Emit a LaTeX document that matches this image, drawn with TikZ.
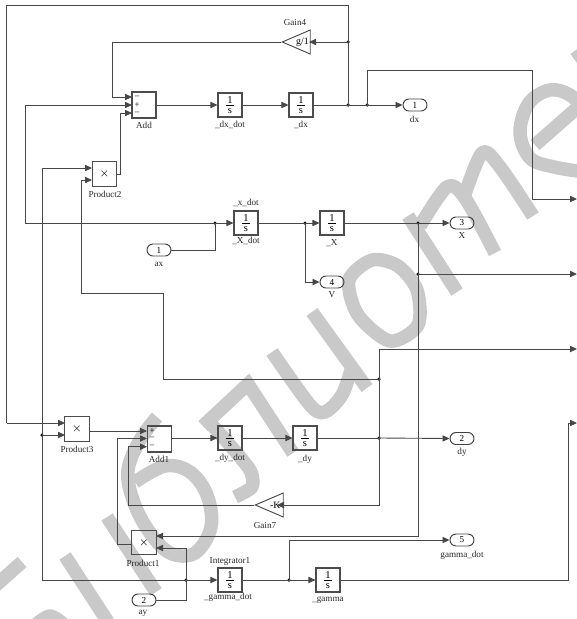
\documentclass[tikz,border=0pt]{standalone}
\usepackage{fontspec}
\setmainfont{Liberation Serif}
\usetikzlibrary{arrows.meta,positioning,shapes.geometric,shapes.misc}
\newcommand{\oneOverS}{\ensuremath{\vcenter{\offinterlineskip\halign{\hfil##\hfil\cr
  \hbox{1}\cr\noalign{\kern0.7pt}\vrule width4.6pt height0.3pt\cr\noalign{\kern1.7pt}\hbox{s}\cr}}}}

\begin{document}
\begin{tikzpicture}[
  x=0.02cm, y=-0.02cm,
  mark stroke/.style={draw=black!21, line width=0.27cm, line join=round},
  block/.style={draw=black!70, line width=0.6pt, minimum width=0.48cm, minimum height=0.48cm, inner sep=0pt, font=\fontsize{6}{6}\selectfont},
  sum/.style={block, minimum height=0.52cm},
  product/.style={block, minimum width=0.49cm, minimum height=0.49cm},
  gain/.style={draw=black!70, line width=0.55pt, isosceles triangle, isosceles triangle stretches, shape border rotate=180, minimum width=0.48cm, minimum height=0.56cm, inner sep=0pt, anchor=apex, font=\fontsize{5.6}{6}\selectfont},
  port/.style={draw=black!75, line width=0.55pt, rounded rectangle, minimum width=0.48cm, minimum height=0.24cm, inner sep=0pt, font=\fontsize{5.2}{6}\selectfont},
  caption/.style={inner sep=0pt, font=\fontsize{5.2}{6}\selectfont, text=black!85},
  sign/.style={inner sep=0pt, font=\fontsize{5}{6}\selectfont},
  dot/.style={circle, fill=black, inner sep=0pt, minimum size=0.07cm},
  wire/.style={draw=black!72, line width=0.5pt},
  arrow/.style={wire, -{Triangle[length=1.4mm, width=1.25mm]}},
]
  \useasboundingbox (0,0) rectangle (577,619);

  % Watermark
  \draw[mark stroke] (-6,587) -- (22,562);
  \draw[mark stroke] (65,556) -- (108,622);
  \draw[mark stroke] plot[smooth] coordinates {(30,630) (50,616) (70,630)};
  \draw[mark stroke] (107,517) -- (156,592);
  \draw[mark stroke] plot[smooth, tension=0.6] coordinates {(157,417) (140,440) (128,470) (133,500) (148,530) (170,553) (195,553) (211,527) (207,495) (190,472) (165,466) (135,482)};
  \draw[mark stroke] plot[smooth, tension=0.4] coordinates {(235,497) (252,487) (250,470) (223,437) (207,420)};
  \draw[mark stroke, line join=miter] (203,426) -- (248,384) -- (293,453);
  \draw[mark stroke] plot[smooth, tension=0.5] coordinates {(272,352) (310,405) (325,412) (342,395) (352,367)};
  \draw[mark stroke] (312,312) -- (367,388);
  \draw[mark stroke] plot[smooth cycle] coordinates {(372,260) (349,280) (358,315) (390,341) (418,325) (417,290) (398,266)};
  \draw[mark stroke] (408,216) -- (457,292);
  \draw[mark stroke] plot[smooth, tension=0.5] coordinates {(420,226) (447,187) (465,198) (495,253)};
  \draw[mark stroke] plot[smooth, tension=0.5] coordinates {(463,200) (482,153) (500,167) (533,216)};
  \draw[mark stroke] plot[smooth, tension=0.6] coordinates {(585,172) (554,167) (530,158) (520,132) (529,103) (550,90) (570,95) (585,110)};
  \draw[mark stroke] (535,145) -- (585,101);
  \draw[mark stroke] (576,50) -- (590,70);

  % Blocks
  \node[sum] (add) at (144,105) {};
  \node[block] (dxdot) at (230,105) {\oneOverS};
  \node[block] (dx) at (301,105) {\oneOverS};
  \node[product] (prodTwo) at (104.5,174) {$\times$};
  \node[block] (xdot) at (246,223) {\oneOverS};
  \node[block] (xint) at (332,223) {\oneOverS};
  \node[product] (prodThree) at (77,429) {$\times$};
  \node[sum] (addOne) at (159.5,439) {};
  \node[block] (dydot) at (230,438) {\oneOverS};
  \node[block] (dy) at (305,438) {\oneOverS};
  \node[product] (prodOne) at (144,542.5) {$\times$};
  \node[block] (gammadot) at (230,580) {\oneOverS};
  \node[block] (gammaint) at (328,580) {\oneOverS};
  \node[gain] (gainFour) at (281,42) {g/1};
  \node[gain] (gainSeven) at (254,505) {-K\hspace{2.5pt}};

  % Ports
  \node[port] (outDx) at (415,105) {1};
  \node[port] (outX) at (462,223) {3};
  \node[port] (outV) at (332,282) {4};
  \node[port] (outDy) at (462,438.5) {2};
  \node[port] (outGamma) at (462,540) {5};
  \node[port] (inAx) at (159,250) {1};
  \node[port] (inAy) at (144,600) {2};

  % Signs on the sums
  \node[sign] (addA) at (137,97) {--};
  \node[sign] (addB) at (137,105) {+};
  \node[sign] (addC) at (137,113) {--};
  \node[sign] (addOneA) at (152,431) {+};
  \node[sign] (addOneB) at (152,438.5) {--};
  \node[sign] (addOneC) at (152,446.7) {--};

  % Captions
  \node[caption] (capAdd) at (144,125) {Add};
  \node[caption] (capDxDot) at (230,125) {\_dx\_dot};
  \node[caption] (capDx) at (301,125) {\_dx};
  \node[caption] (capGainFour) at (295,23) {Gain4};
  \node[caption] (capOutDx) at (414.5,119) {dx};
  \node[caption] (capProdTwo) at (105,194) {Product2};
  \node[caption] (capXdotA) at (246,203) {\_x\_dot};
  \node[caption] (capXdotB) at (246,241) {\_X\_dot};
  \node[caption] (capX) at (332,243) {\_X};
  \node[caption] (capOutX) at (462,236) {X};
  \node[caption] (capOutV) at (332,295) {V};
  \node[caption] (capAx) at (159,264) {ax};
  \node[caption] (capProdThree) at (77,449) {Product3};
  \node[caption] (capAddOne) at (159,459) {Add1};
  \node[caption] (capDyDot) at (230,458) {\_dy\_dot};
  \node[caption] (capDy) at (305,459) {\_dy};
  \node[caption] (capOutDy) at (462,452) {dy};
  \node[caption] (capGainSeven) at (265,526) {Gain7};
  \node[caption] (capProdOne) at (143,563) {Product1};
  \node[caption] (capIntegrator) at (230,561) {Integrator1};
  \node[caption] (capGammaDot) at (228,597) {\_gamma\_dot};
  \node[caption] (capGamma) at (328,600) {\_gamma};
  \node[caption] (capOutGamma) at (462,555) {gamma\_dot};
  \node[caption] (capAy) at (143,613) {ay};

  % Junctions
  \node[dot] (jGain) at (348,42) {};
  \node[dot] (jDxA) at (348,105) {};
  \node[dot] (jDxB) at (367,105) {};
  \node[dot] (jXdot) at (215,223) {};
  \node[dot] (jV) at (305,223) {};
  \node[dot] (jX) at (418,223) {};
  \node[dot] (jRightA) at (418,274) {};
  \node[dot] (jFeed) at (379,379) {};
  \node[dot] (jDy) at (379,438) {};
  \node[dot] (jProd) at (42,435) {};
  \node[dot] (jAy) at (186,580) {};
  \node[dot] (jGamma) at (289,580) {};

  % Free ends and inputs
  \coordinate (addInA) at (132,97);
  \coordinate (addInB) at (132,105);
  \coordinate (addInC) at (132,113);
  \coordinate (prodTwoInA) at (92,168);
  \coordinate (prodTwoInB) at (92,180);
  \coordinate (prodThreeInA) at (65,423);
  \coordinate (prodThreeInB) at (65,435);
  \coordinate (addOneInA) at (147,431);
  \coordinate (addOneInB) at (147,438.5);
  \coordinate (addOneInC) at (147,446.7);
  \coordinate (prodOneInA) at (156,536);
  \coordinate (prodOneInB) at (156,548);
  \coordinate (gainFourIn) at (309,42);
  \coordinate (gainSevenIn) at (277,505);
  \coordinate (edgeA) at (577,199);
  \coordinate (edgeB) at (577,274);
  \coordinate (edgeC) at (577,349);
  \coordinate (edgeD) at (577,423);

  % Upper row
  \draw[arrow] (add.east) -- (dxdot.west);
  \draw[arrow] (dxdot.east) -- (dx.west);
  \draw[wire] (dx.east) -- (jDxA.center);
  \draw[wire] (jDxA.center) -- (jDxB.center);
  \draw[arrow] (jDxB.center) -- (outDx.west);
  \draw[wire] (jDxA.center) -- (jGain.center);
  \draw[arrow] (jGain.center) -- (gainFourIn);
  \draw[arrow] (gainFour.apex) -- (112,42) |- (addInA);
  \draw[wire] (jGain.center) -- (348,5.5) -- (6.5,5.5) -- (6.5,423);
  \draw[arrow] (6.5,423) -- (prodThreeInA);
  \draw[arrow] (jDxB.center) -- (367,70) -- (532,70) |- (edgeA);
  \draw[arrow] (jXdot.center) -- (xdot.west);
  \draw[arrow] (jXdot.center) -- (25,223) |- (addInB);
  \draw[wire] (inAx.east) -| (jXdot.center);

  % Products
  \draw[arrow] (prodTwo.east) -- (120,174) |- (addInC);
  \draw[arrow] (jProd.center) |- (prodTwoInA);
  \draw[arrow] (jProd.center) -- (prodThreeInB);
  \draw[arrow] (jFeed.center) -- (163,379) -- (163,293) -- (81,293) |- (prodTwoInB);

  % Middle row
  \draw[wire] (xdot.east) -- (jV.center);
  \draw[arrow] (jV.center) -- (xint.west);
  \draw[arrow] (jV.center) |- (outV.west);
  \draw[wire] (xint.east) -- (jX.center);
  \draw[arrow] (jX.center) -- (outX.west);
  \draw[arrow] (jRightA.center) -- (edgeB);
  \draw[wire] (jX.center) -- (jRightA.center);
  \draw[arrow] (jRightA.center) -- (418,536) -- (prodOneInA);

  % Lower row
  \draw[arrow] (prodThree.east |- addOneInA) -- (addOneInA);
  \draw[arrow] (addOne.east |- dydot) -- (dydot.west);
  \draw[arrow] (dydot.east) -- (dy.west);
  \draw[wire] (dy.east) -- (jDy.center);
  \draw[arrow] (jDy.center) -- (outDy.west);
  \draw[wire] (jFeed.center) -- (jDy.center);
  \draw[arrow] (jFeed.center) |- (edgeC);
  \draw[arrow] (jDy.center) |- (gainSevenIn);
  \draw[arrow] (gainSeven.apex) -- (128,505) |- (addOneInC);
  \draw[arrow] (prodOne.west) ++(0,2) -- (117,544.5) |- (addOneInB);
  \draw[arrow] (inAy.east) -- (186,600) |- (prodOneInB);

  % Bottom row
  \draw[wire] (jProd.center) -- (42,580) -- (jAy.center);
  \draw[arrow] (jAy.center) -- (gammadot.west);
  \draw[wire] (gammadot.east) -- (jGamma.center);
  \draw[arrow] (jGamma.center) -- (gammaint.west);
  \draw[arrow] (jGamma.center) |- (outGamma.west);
  \draw[arrow] (gammaint.east) -- (568,580) |- (edgeD);
\end{tikzpicture}
\end{document}
